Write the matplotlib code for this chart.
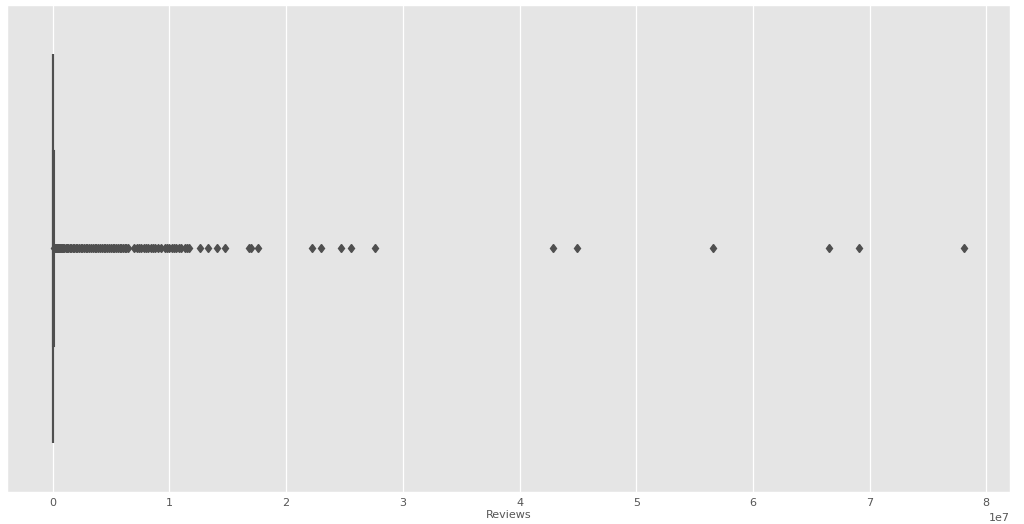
import matplotlib
matplotlib.use("Agg")
import matplotlib.pyplot as plt
import numpy as np

plt.style.use("ggplot")

# box statistics of the Reviews column (estimated)
q1 = 38
median = 2094
q3 = 54768
whisker_lo = 0
whisker_hi = 136000

# outliers, in millions of reviews
dense_outliers = [0.14, 0.16, 0.19, 0.22, 0.26, 0.3, 0.35, 0.41, 0.48, 0.55,
                  0.63, 0.72, 0.81, 0.9, 1.0, 1.1, 1.21, 1.33, 1.45, 1.57,
                  1.7, 1.83, 1.96, 2.1, 2.24, 2.38, 2.52, 2.67, 2.82, 2.97,
                  3.12, 3.27, 3.42, 3.58, 3.74, 3.9, 4.05, 4.2, 4.36, 4.52,
                  4.68, 4.83, 4.98, 5.13, 5.28, 5.43, 5.58, 5.73, 5.88, 6.02,
                  6.16, 6.3, 6.45]
sparse_outliers = [7.0, 7.2, 7.4, 7.6, 7.8, 8.0, 8.2, 8.4, 8.6, 8.8,
                   9.0, 9.3, 9.6, 9.8, 10.0, 10.2, 10.4, 10.6, 10.8, 11.0,
                   11.3, 11.5, 11.7, 12.6, 13.3, 14.1, 14.8, 16.8, 17.0, 17.6,
                   22.2, 23.0, 24.7, 25.6, 27.6, 42.9, 44.9, 56.6, 66.5, 69.1,
                   78.1]

fliers = np.array(dense_outliers + sparse_outliers) * 1e6

stats = [dict(med=median, q1=q1, q3=q3, whislo=whisker_lo, whishi=whisker_hi,
              fliers=fliers, label="")]

line_col = "#4f4f4f"

fig, ax = plt.subplots(figsize=(10.24, 5.24), dpi=100)
ax.bxp(stats, positions=[0], widths=0.8, orientation="horizontal",
       patch_artist=True, showfliers=True,
       boxprops=dict(facecolor="#3274a1", edgecolor=line_col, linewidth=1.5),
       medianprops=dict(color=line_col, linewidth=1.5),
       whiskerprops=dict(color=line_col, linewidth=1.5),
       capprops=dict(color=line_col, linewidth=1.5),
       flierprops=dict(marker="d", markersize=4.5, markerfacecolor=line_col,
                       markeredgecolor=line_col, linestyle="none"))

ax.set_ylim(0.5, -0.5)
ax.set_yticks([])
ax.margins(x=0.05)
ax.grid(axis="y", visible=False)
ax.grid(axis="x", color="white", linewidth=0.9)
ax.set_xlabel("Reviews", fontsize=8, color="#555555", labelpad=1)
ax.tick_params(axis="x", length=0, labelsize=8, colors="#555555", pad=5)
ax.xaxis.get_offset_text().set_fontsize(8)
ax.xaxis.get_offset_text().set_color("#555555")

fig.subplots_adjust(left=0.007, right=0.986, top=0.99, bottom=0.062)
fig.savefig("out.png", dpi=100)
